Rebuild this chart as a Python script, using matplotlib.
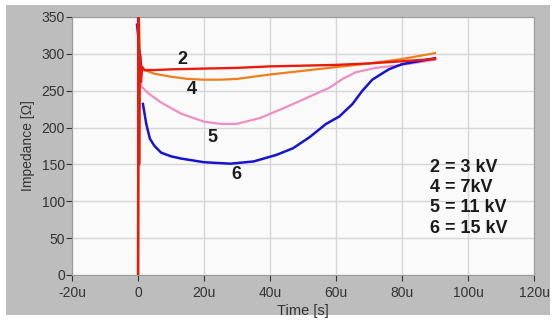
import matplotlib
matplotlib.use("Agg")
import matplotlib.pyplot as plt
from matplotlib.patches import Rectangle

# ---- data (time in microseconds, impedance in ohms) ----
t2 = [0.0, 0.15, 0.35, 0.6, 0.9, 1.3, 2, 5, 10, 20, 30, 40, 50, 60, 70, 80, 90]
z2 = [0, 350, 150, 300, 262, 282, 278, 278, 279, 280, 281, 283, 284, 285, 287, 290, 293]

t4 = [0.1, 0.3, 0.6, 1, 2, 5, 10, 15, 20, 25, 30, 40, 50, 60, 70, 80, 90]
z4 = [0, 345, 300, 282, 278, 273, 269, 266, 265, 265, 266, 272, 277, 282, 287, 293, 301]

t5 = [0.3, 0.7, 1, 3, 7, 13, 20, 25, 30, 37, 45, 52, 58, 62, 66, 72, 80, 90]
z5 = [300, 275, 256, 247, 234, 219, 208, 205, 205, 213, 228, 242, 254, 266, 275, 281, 285, 292]

t6_spike = [-0.4, 0.3, 1.0]
z6_spike = [340, 310, 285]
t6 = [1.5, 2.5, 3.6, 5, 7, 10, 13, 20, 28, 35, 42, 47, 52, 57, 61, 65, 68, 71, 76, 80, 85, 90]
z6 = [232, 205, 185, 175, 166, 161, 158, 153, 151, 154, 163, 172, 187, 205, 215, 232, 250, 265, 279, 286, 290, 294]

xticks = [-20, 0, 20, 40, 60, 80, 100, 120]
xticklabels = ["-20u", "0", "20u", "40u", "60u", "80u", "100u", "120u"]
yticks = [0, 50, 100, 150, 200, 250, 300, 350]

curve_labels = ["2", "4", "5", "6"]
label_pos_t = [13.4, 16.4, 22.5, 29.8]
label_pos_z = [292, 251, 187, 136]
legend_lines = ["2 = 3 kV", "4 = 7kV", "5 = 11 kV", "6 = 15 kV"]

plt.rcParams['font.family'] = ['Liberation Sans', 'DejaVu Sans']

W, H = 556, 320
fig = plt.figure(figsize=(W / 100, H / 100), dpi=100)
fig.patch.set_facecolor("white")
bg = Rectangle((6 / W, 5 / H), 544 / W, 310 / H, transform=fig.transFigure,
               facecolor="#bdbdbd", edgecolor="none", zorder=-10)
fig.add_artist(bg)

ax = fig.add_axes([72 / W, 45 / H, 462 / W, 258 / H])
ax.set_zorder(1)
ax.set_facecolor("#fafafa")
ax.set_xlim(-20, 120)
ax.set_ylim(0, 350)
ax.set_xticks(xticks)
ax.set_xticklabels(xticklabels)
ax.set_yticks(yticks)
ax.grid(True, color="#d6d6d6", linewidth=1.0)
ax.set_axisbelow(True)
for s in ax.spines.values():
    s.set_color("#9a9a9a")
    s.set_linewidth(0.8)
ax.tick_params(colors="#333333", labelsize=10, length=4, width=0.8, direction="out")
ax.tick_params(axis="x", pad=4)
ax.tick_params(axis="y", pad=1)
for lab in ax.get_xticklabels() + ax.get_yticklabels():
    lab.set_color("#333333")

ax.plot(t4, z4, color="#f07e1c", lw=1.6, zorder=3)
ax.plot(t5, z5, color="#ee8ec4", lw=1.6, zorder=3)
ax.plot(t6_spike, z6_spike, color="#6a1aa0", lw=1.4, zorder=3)
ax.plot(t6, z6, color="#1414d2", lw=1.8, zorder=4)
ax.plot(t2, z2, color="#e81c0c", lw=1.7, zorder=5)

for lab, tx, zy in zip(curve_labels, label_pos_t, label_pos_z):
    ax.text(tx, zy, lab, fontsize=13, fontweight="bold", color="#1a1a1a",
            ha="center", va="center", zorder=6)

for i, line in enumerate(legend_lines):
    ax.text(88.5, 146 - i * 27.5, line, fontsize=13, fontweight="bold", color="#1a1a1a",
            ha="left", va="center", zorder=6)

ax.set_xlabel("Time [s]", fontsize=10.5, color="#333333", labelpad=3)
ax.set_ylabel("Impedance [Ω]", fontsize=10, color="#333333", labelpad=5)

fig.savefig("out.png", dpi=100)
